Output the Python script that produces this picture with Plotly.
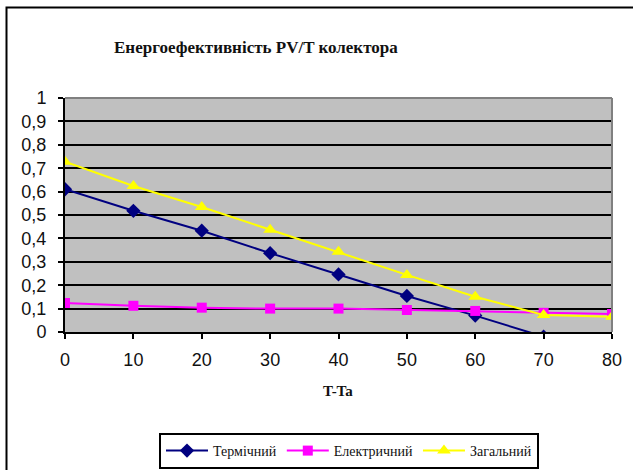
import plotly.graph_objects as go

x_vals = [0, 10, 20, 30, 40, 50, 60, 70, 80]
thermal = [0.61, 0.518, 0.433, 0.337, 0.246, 0.154, 0.07, -0.02]
electrical = [0.124, 0.112, 0.104, 0.1, 0.1, 0.094, 0.09, 0.082, 0.077]
total = [0.728, 0.624, 0.534, 0.437, 0.343, 0.244, 0.151, 0.073, 0.065]
names = ["Термічний", "Електричний", "Загальний"]
title_text = "Енергоефективність PV/T колектора"
x_title = "T-Ta"

W, H = 633, 470
L, R, T, B = 65, 21, 98, 138
pw, ph = W - L - R, H - T - B
SERIF = "Liberation Serif, Times New Roman, serif"
SANS = "Liberation Sans, Arial, sans-serif"

def px(xp):
    return (xp - L) / pw

def py(yp):
    return (H - B - yp) / ph

fig = go.Figure()
fig.add_trace(go.Scatter(x=x_vals[:len(thermal)], y=thermal, name=names[0], mode="lines+markers",
                         line=dict(color="#000080", width=2),
                         marker=dict(symbol="diamond", size=11, color="#000080")))
fig.add_trace(go.Scatter(x=x_vals, y=electrical, name=names[1], mode="lines+markers",
                         line=dict(color="#FF00FF", width=2),
                         marker=dict(symbol="square", size=10, color="#FF00FF")))
fig.add_trace(go.Scatter(x=x_vals, y=total, name=names[2], mode="lines+markers",
                         line=dict(color="#FFFF00", width=2),
                         marker=dict(symbol="triangle-up", size=12, color="#FFFF00")))

fig.update_layout(
    width=W, height=H,
    margin=dict(l=L, r=R, t=T, b=B, autoexpand=False),
    paper_bgcolor="white", plot_bgcolor="#C0C0C0",
    separators=", ",
    font=dict(family=SANS, size=17, color="#111"),
    showlegend=True,
    legend=dict(orientation="h", x=px(159), y=py(433), xanchor="left", yanchor="top",
                bordercolor="black", borderwidth=2, bgcolor="white",
                font=dict(family=SERIF, size=14, color="#111"),
                itemwidth=42, tracegroupgap=0),
    annotations=[
        dict(text="<b>" + title_text + "</b>", xref="paper", yref="paper",
             x=px(256), y=py(47), xanchor="center", yanchor="middle", showarrow=False,
             font=dict(family=SERIF, size=17, color="#111")),
        dict(text="<b>" + x_title + "</b>", xref="paper", yref="paper",
             x=px(338), y=py(391), xanchor="center", yanchor="middle", showarrow=False,
             font=dict(family=SERIF, size=15, color="#111")),
    ],
    shapes=[
        dict(type="line", xref="paper", yref="paper", x0=0, x1=1, y0=1, y1=1,
             line=dict(color="#808080", width=2), layer="above"),
        dict(type="line", xref="paper", yref="paper", x0=1, x1=1, y0=0, y1=1,
             line=dict(color="#808080", width=2), layer="above"),
        dict(type="rect", xref="paper", yref="paper", x0=px(6.5), x1=px(645),
             y0=py(485), y1=py(7.5), line=dict(color="black", width=2)),
    ],
)
fig.update_xaxes(range=[0, 80], tickvals=x_vals, showgrid=False, zeroline=False,
                 showline=True, linecolor="black", linewidth=2,
                 ticks="outside", ticklen=5, tickwidth=2, tickcolor="black",
                 ticklabelstandoff=5, tickfont=dict(family=SANS, size=18, color="#111"))
fig.update_yaxes(range=[0, 1], dtick=0.1, tick0=0, showgrid=True, gridcolor="black",
                 gridwidth=2, zeroline=False, showline=True, linecolor="black",
                 linewidth=2, ticks="outside", ticklen=5, tickwidth=2, tickcolor="black",
                 ticksuffix="\u00a0", ticklabelstandoff=3,
                 tickfont=dict(family=SANS, size=18, color="#111"))

fig.write_html("out.html")
